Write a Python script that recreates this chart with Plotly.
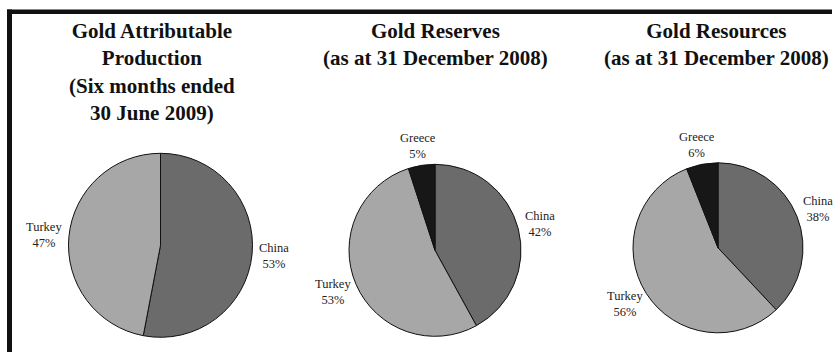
import math
import plotly.graph_objects as go

W, H = 837, 352

# Data
titles = [
    "Gold Attributable<br>Production<br>(Six months ended<br>30 June 2009)",
    "Gold Reserves<br>(as at 31 December 2008)",
    "Gold Resources<br>(as at 31 December 2008)",
]
labels_production = ["China", "Turkey"]
values_production = [53, 47]
labels_reserves = ["China", "Turkey", "Greece"]
values_reserves = [42, 53, 5]
labels_resources = ["China", "Turkey", "Greece"]
values_resources = [38, 56, 6]

color_map = {"China": "#6a6b6a", "Turkey": "#a6a7a6", "Greece": "#171717"}

# layout geometry (pixels): centre x, centre y, radius
geom = [(160.5, 245.3, 92), (435, 250.3, 86), (718, 247.8, 85)]
title_x = [152, 435, 716]
LABEL_SIZE = 12.5
LABEL_GAP = 7
LABEL_H = 25

fig = go.Figure()
datasets = [(labels_production, values_production),
            (labels_reserves, values_reserves),
            (labels_resources, values_resources)]

for (labs, vals), (cx, cy, r) in zip(datasets, geom):
    fig.add_trace(go.Pie(
        labels=labs, values=vals,
        sort=False, direction="clockwise", rotation=0,
        marker=dict(colors=[color_map[l] for l in labs],
                    line=dict(color="#111111", width=1)),
        textinfo="none",
        hoverinfo="label+percent",
        showlegend=False,
        domain=dict(x=[(cx - r) / W, (cx + r) / W],
                    y=[(H - cy - r) / H, (H - cy + r) / H]),
    ))
    # data labels outside each slice, at the slice's mid angle
    total = float(sum(vals))
    cum = 0.0
    for lab, v in zip(labs, vals):
        ang = (cum + v / 2.0) / total * 2 * math.pi
        cum += v
        s, c = math.sin(ang), math.cos(ang)
        lw = 0.49 * LABEL_SIZE * len(lab)
        lx = cx + (r + LABEL_GAP) * s + s * lw / 2
        ly = cy - (r + LABEL_GAP) * c - c * LABEL_H / 2
        fig.add_annotation(
            text=f"{lab}<br>{round(v / total * 100)}%",
            x=lx / W, y=(H - ly) / H, xref="paper", yref="paper",
            xanchor="center", yanchor="middle", showarrow=False, align="center",
            font=dict(family="Liberation Serif", size=LABEL_SIZE, color="#222222"),
        )

for t, tx in zip(titles, title_x):
    fig.add_annotation(
        text="<b>" + t + "</b>", x=tx / W, y=(H - 17) / H,
        xref="paper", yref="paper", xanchor="center", yanchor="top",
        showarrow=False, align="center",
        font=dict(family="Liberation Serif", size=21, color="#111111"),
    )

# frame (top and left bars)
fig.add_shape(type="rect", xref="paper", yref="paper",
              x0=7 / W, x1=832 / W, y0=(H - 14) / H, y1=(H - 9.5) / H,
              fillcolor="#111111", line=dict(width=0))
fig.add_shape(type="rect", xref="paper", yref="paper",
              x0=7 / W, x1=12 / W, y0=0, y1=(H - 9.5) / H,
              fillcolor="#111111", line=dict(width=0))

fig.update_layout(
    width=W, height=H,
    margin=dict(l=0, r=0, t=0, b=0),
    paper_bgcolor="white", plot_bgcolor="white",
    font=dict(family="Liberation Serif"),
)

fig.write_html("out.html", config={"displayModeBar": False},
               post_script="document.body.style.margin='0';document.body.style.overflow='hidden';")
